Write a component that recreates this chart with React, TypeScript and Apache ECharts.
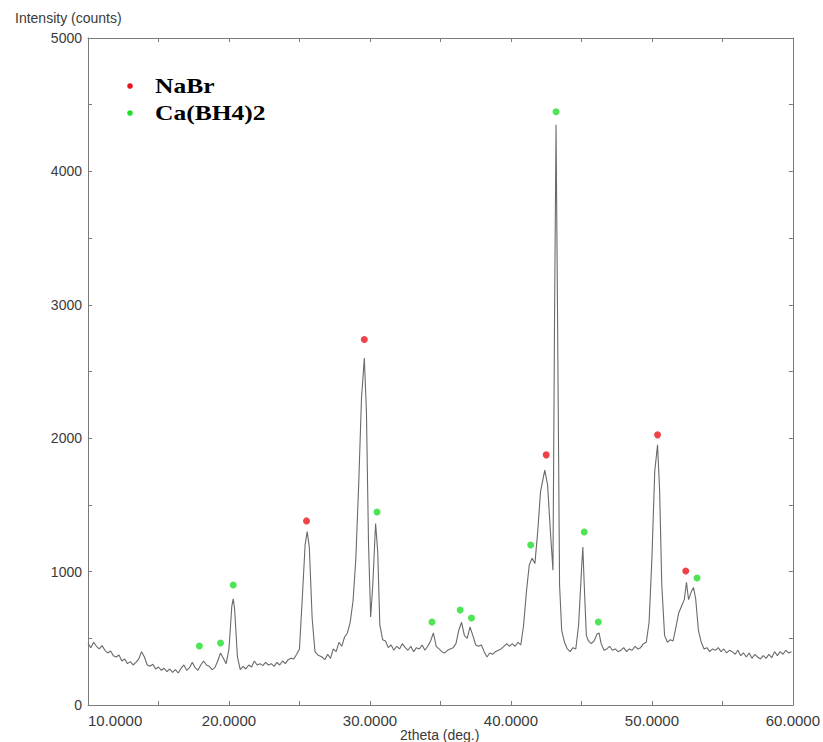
import React, { useEffect, useRef } from 'react';
import * as echarts from 'echarts';

// 2theta (deg.) sampling positions of the measured pattern
const twoTheta = [
  10.0, 10.2, 10.4, 10.6, 10.8, 11.0, 11.2, 11.4, 11.6, 11.8,
  12.0, 12.2, 12.4, 12.6, 12.8, 13.0, 13.2, 13.4, 13.6, 13.8,
  14.0, 14.2, 14.4, 14.6, 14.8, 15.0, 15.2, 15.4, 15.6, 15.8,
  16.0, 16.2, 16.4, 16.6, 16.8, 17.0, 17.2, 17.4, 17.6, 17.8,
  18.0, 18.2, 18.4, 18.6, 18.8, 19.0, 19.2, 19.4, 19.6, 19.8,
  20.0, 20.2, 20.3, 20.4, 20.6, 20.8, 21.0, 21.2, 21.4, 21.6,
  21.8, 22.0, 22.2, 22.4, 22.6, 22.8, 23.0, 23.2, 23.4, 23.6,
  23.8, 24.0, 24.2, 24.4, 24.6, 24.8, 25.0, 25.2, 25.4, 25.55,
  25.7, 25.9, 26.1, 26.3, 26.6, 26.8, 27.0, 27.2, 27.4, 27.6,
  27.8, 28.0, 28.2, 28.4, 28.6, 28.8, 29.0, 29.2, 29.4, 29.6,
  29.75, 29.9, 30.05, 30.2, 30.4, 30.55, 30.7, 30.9, 31.1, 31.3,
  31.5, 31.7, 31.9, 32.1, 32.3, 32.5, 32.7, 32.9, 33.1, 33.3,
  33.5, 33.7, 33.9, 34.1, 34.3, 34.5, 34.7, 34.9, 35.1, 35.3,
  35.5, 35.7, 35.9, 36.1, 36.3, 36.5, 36.7, 36.9, 37.1, 37.3,
  37.5, 37.7, 37.9, 38.1, 38.3, 38.5, 38.7, 38.9, 39.1, 39.3,
  39.5, 39.7, 39.9, 40.1, 40.3, 40.5, 40.7, 40.9, 41.1, 41.3,
  41.5, 41.7, 41.9, 42.1, 42.4, 42.6, 42.8, 42.98, 43.1, 43.2,
  43.3, 43.45, 43.6, 43.8, 44.0, 44.2, 44.4, 44.6, 44.8, 45.0,
  45.1, 45.2, 45.35, 45.5, 45.7, 45.9, 46.1, 46.25, 46.4, 46.6,
  46.8, 47.0, 47.2, 47.4, 47.6, 47.8, 48.0, 48.2, 48.4, 48.6,
  48.8, 49.0, 49.2, 49.4, 49.6, 49.8, 50.0, 50.2, 50.4, 50.55,
  50.7, 50.9, 51.1, 51.3, 51.5, 51.7, 51.9, 52.1, 52.3, 52.45,
  52.6, 52.8, 52.95, 53.1, 53.3, 53.5, 53.7, 53.9, 54.1, 54.3,
  54.5, 54.7, 54.9, 55.1, 55.3, 55.5, 55.7, 55.9, 56.1, 56.3,
  56.5, 56.7, 56.9, 57.1, 57.3, 57.5, 57.7, 57.9, 58.1, 58.3,
  58.5, 58.7, 58.9, 59.1, 59.3, 59.5, 59.7, 59.9,
];

// Intensity (counts) at each 2theta position
const intensity = [
  460, 430, 470, 440, 420, 445, 410, 390, 405, 370,
  360, 375, 330, 345, 310, 325, 300, 320, 345, 400,
  360, 300, 290, 305, 270, 285, 260, 275, 250, 270,
  245, 265, 240, 275, 300, 260, 280, 320, 280, 260,
  300, 330, 300, 290, 265, 280, 330, 390, 350, 310,
  420, 740, 795, 720, 360, 265, 290, 270, 300, 285,
  330, 300, 310, 295, 320, 300, 310, 290, 320, 300,
  330, 310, 340, 350, 345, 380, 420, 800, 1200, 1300,
  1180, 650, 400, 375, 360, 340, 380, 350, 420, 400,
  470, 440, 510, 540, 620, 780, 1100, 1650, 2300, 2600,
  2200, 1200, 660, 900, 1360, 1150, 600, 490, 480, 430,
  450, 410, 440, 420, 460, 430, 410, 440, 400, 430,
  420, 450, 410, 440, 480, 540, 440, 420, 400, 390,
  410, 420, 430, 460, 560, 620, 520, 500, 585, 520,
  450, 440, 450, 400, 360, 390, 380, 400, 410, 420,
  440, 460, 440, 460, 440, 470, 450, 600, 850, 1050,
  1100, 1060, 1300, 1600, 1760, 1650, 1300, 1010, 3000, 4350,
  3000, 900, 560, 470, 420, 400, 430, 420, 600, 1000,
  1185, 900, 520, 480, 460, 480, 530, 540, 460, 410,
  420, 440, 410, 420, 400, 410, 430, 400, 420, 410,
  440, 420, 430, 460, 470, 620, 1100, 1750, 1950, 1600,
  900, 520, 470, 490, 480, 580, 690, 740, 790, 920,
  790, 850, 880, 800, 560, 470, 420, 430, 400, 420,
  410, 430, 400, 420, 390, 410, 400, 380, 410, 370,
  390, 360, 390, 350, 380, 360, 345, 370, 350, 380,
  355, 400, 370, 400, 380, 410, 390, 400,
];

// Peak markers: NaBr (red)
const nabrTheta = [25.5, 29.6, 42.5, 50.4, 52.4];
const nabrIntensity = [1380, 2740, 1875, 2025, 1005];

// Peak markers: Ca(BH4)2 (green)
const cabhTheta = [17.9, 19.4, 20.3, 30.5, 34.4, 36.4, 37.2, 41.4, 43.2, 45.2, 46.2, 53.2];
const cabhIntensity = [442, 465, 900, 1447, 622, 712, 652, 1200, 4447, 1297, 622, 952];

const legendNames = ['NaBr', 'Ca(BH4)2'];
const legendColors = ['#e8141c', '#22dd2a'];

const xMin = 10;
const xMax = 60;
const yMin = 0;
const yMax = 5000;

export default function App() {
  const ref = useRef<HTMLDivElement>(null);

  useEffect(() => {
    if (!ref.current) return;
    const chart = echarts.init(ref.current, null, { renderer: 'svg' });
    const frame = '#7a7a7a';
    const pattern = twoTheta.map((t, i) => [t, intensity[i]]);
    const nabr = nabrTheta.map((t, i) => [t, nabrIntensity[i]]);
    const cabh = cabhTheta.map((t, i) => [t, cabhIntensity[i]]);

    const legendGraphics: any[] = [];
    legendNames.forEach((name, i) => {
      const cy = 86 + i * 27;
      legendGraphics.push({
        type: 'circle',
        shape: { cx: 130, cy, r: 2.8 },
        style: { fill: legendColors[i] },
      });
      legendGraphics.push({
        type: 'text',
        x: 155,
        y: cy,
        scaleX: 1.16,
        style: {
          text: name,
          fontFamily: '"Liberation Serif", "Times New Roman", serif',
          fontWeight: 'bold',
          fontSize: 22,
          fill: '#000',
          verticalAlign: 'middle',
          align: 'left',
        },
      });
    });

    chart.setOption({
      animation: false,
      backgroundColor: '#ffffff',
      grid: { left: 88, right: 30, top: 38, bottom: 37, containLabel: false },
      xAxis: [
        {
          type: 'value',
          min: xMin,
          max: xMax,
          interval: 5,
          position: 'bottom',
          axisLine: { show: true, onZero: false, lineStyle: { color: frame, width: 1 } },
          axisTick: { show: true, inside: true, length: 4, lineStyle: { color: frame } },
          splitLine: { show: false },
          axisLabel: {
            color: '#3a3a3a',
            fontFamily: '"Liberation Sans", Arial, sans-serif',
            fontSize: 15,
            margin: 8,
            alignMinLabel: 'left',
            formatter: (v: number) => (v % 10 === 0 ? v.toFixed(4) : ''),
          },
        },
        {
          type: 'value',
          min: xMin,
          max: xMax,
          interval: 5,
          position: 'top',
          axisLine: { show: true, onZero: false, lineStyle: { color: frame, width: 1 } },
          axisTick: { show: true, inside: true, length: 4, lineStyle: { color: frame } },
          splitLine: { show: false },
          axisLabel: { show: false },
        },
      ],
      yAxis: [
        {
          type: 'value',
          min: yMin,
          max: yMax,
          interval: 500,
          position: 'left',
          axisLine: { show: true, onZero: false, lineStyle: { color: frame, width: 1 } },
          axisTick: { show: true, inside: true, length: 4, lineStyle: { color: frame } },
          splitLine: { show: false },
          axisLabel: {
            color: '#3a3a3a',
            fontFamily: '"Liberation Sans", Arial, sans-serif',
            fontSize: 14,
            margin: 6,
            formatter: (v: number) => (v % 1000 === 0 ? String(v) : ''),
          },
        },
        {
          type: 'value',
          min: yMin,
          max: yMax,
          interval: 500,
          position: 'right',
          axisLine: { show: true, onZero: false, lineStyle: { color: frame, width: 1 } },
          axisTick: { show: true, inside: true, length: 4, lineStyle: { color: frame } },
          splitLine: { show: false },
          axisLabel: { show: false },
        },
      ],
      graphic: [
        {
          type: 'text',
          left: 15,
          top: 11,
          style: {
            text: 'Intensity (counts)',
            fontFamily: '"Liberation Sans", Arial, sans-serif',
            fontSize: 14,
            fill: '#3a3a3a',
          },
        },
        {
          type: 'text',
          left: 400,
          top: 728,
          style: {
            text: '2theta (deg.)',
            fontFamily: '"Liberation Sans", Arial, sans-serif',
            fontSize: 14,
            fill: '#3a3a3a',
          },
        },
        ...legendGraphics,
      ],
      series: [
        {
          name: 'pattern',
          type: 'line',
          xAxisIndex: 0,
          yAxisIndex: 0,
          data: pattern,
          showSymbol: false,
          symbol: 'none',
          lineStyle: { color: '#6a6a6a', width: 1.1 },
          z: 2,
        },
        {
          name: 'NaBr',
          type: 'scatter',
          xAxisIndex: 0,
          yAxisIndex: 0,
          data: nabr,
          symbol: 'circle',
          symbolSize: 7,
          itemStyle: { color: legendColors[0] },
          z: 3,
        },
        {
          name: 'Ca(BH4)2',
          type: 'scatter',
          xAxisIndex: 0,
          yAxisIndex: 0,
          data: cabh,
          symbol: 'circle',
          symbolSize: 7,
          itemStyle: { color: legendColors[1] },
          z: 3,
        },
      ],
    });

    return () => chart.dispose();
  }, []);

  return (
    <div
      ref={ref}
      style={{ position: 'absolute', left: 0, top: 0, width: 823, height: 742, background: '#fff' }}
    />
  );
}
